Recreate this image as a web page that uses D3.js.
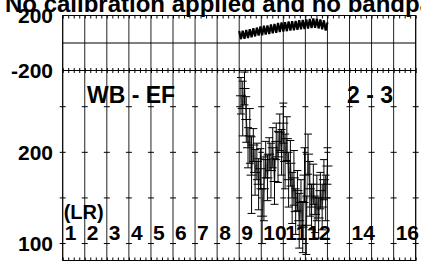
<!DOCTYPE html>
<html>
<head>
<meta charset="utf-8">
<script src="https://cdn.jsdelivr.net/npm/d3@7"></script>
<style>
  body { margin: 0; background: #fff; }
  svg text { font-family: "Liberation Sans", Arial, sans-serif; font-weight: bold; fill: #000; }
</style>
</head>
<body>
<svg id="chart" width="421" height="264"></svg>
<script>
// hour grid and labels
const hourGrid = [1,2,3,4,5,6,7,8,9,10,11,12,13,14,15,16,17];
const hourLabels = [1,2,3,4,5,6,7,8,9,10,11,12,14,16];

// top panel (phase) and bottom panel (amplitude) ticks
const phaseLabels = [200, -200];
const ampTicks = [100, 150, 200, 250];
const ampLabels = [100, 200];

// phase band
const phTime = [9.00,9.08,9.16,9.24,9.32,9.40,9.48,9.56,9.64,9.72,9.80,9.88,9.96,10.04,10.12,10.20,10.28,10.36,
  10.44,10.52,10.60,10.68,10.76,10.84,10.92,11.00,11.08,11.16,11.24,11.32,11.40,11.48,11.56,11.64,11.72,11.80,
  11.88,11.96,12.04,12.12,12.20,12.28,12.36,12.44,12.52,12.60,12.68,12.76,12.84,12.92,13.00];
const phVal = [88,28,90,30,95,36,100,42,108,48,112,55,120,56,125,62,128,66,
  135,70,138,75,145,80,150,84,152,86,156,90,158,92,160,96,165,100,
  168,102,172,106,175,108,178,110,176,106,172,100,165,90,150];

// amplitude points with error bars
const ptTime = [9.08,9.16,9.24,9.32,9.40,9.48,9.56,9.64,9.72,9.80,9.88,9.96,10.04,10.12,10.20,10.28,10.36,
  10.44,10.52,10.60,10.68,10.76,10.84,10.92,11.00,11.08,11.16,11.24,11.32,11.40,11.48,11.56,11.64,11.72,11.80,
  11.88,11.96,12.04,12.12,12.20,12.28,12.36,12.44,12.52,12.60,12.68,12.76,12.84,12.92,13.00];
const ptAmp = [262,248,270,236,205,218,175,208,178,190,165,182,130,160,192,172,198,180,205,168,212,195,222,200,
  232,190,215,170,188,150,172,135,158,125,145,118,175,120,198,160,140,165,132,150,128,158,140,170,150,185];
const ptErr = [20,30,18,25,22,30,42,18,25,20,28,22,30,35,20,25,18,30,22,25,20,28,20,25,
  22,30,24,30,25,28,30,25,22,30,25,28,30,32,22,30,25,22,20,25,22,20,25,22,25,20];

const svg = d3.select("#chart");
const left = 62.7, right = 415.7;
const topY = 15.5, midY = 70.5, botY = 260.5;

const x = d3.scaleLinear().domain([1, 17]).range([left, right]);
const yPh = d3.scaleLinear().domain([-200, 200]).range([midY, topY]);
const yAmp = d3.scaleLinear().domain([81.4, 289.7]).range([botY, midY]);

// title (runs off the right edge)
svg.append("text")
   .attr("x", 5).attr("y", 12)
   .style("font-size", "24px")
   .text("No calibration applied and no bandpass correction");

// vertical grid
svg.append("g").selectAll("line")
   .data(hourGrid)
   .join("line")
   .attr("x1", d => x(d)).attr("x2", d => x(d))
   .attr("y1", topY).attr("y2", botY)
   .attr("stroke", "#222").attr("stroke-width", 1);

// frames
svg.append("rect").attr("x", left).attr("y", topY)
   .attr("width", right - left).attr("height", botY - topY)
   .attr("fill", "none").attr("stroke", "#000");
svg.append("line").attr("x1", left).attr("x2", right)
   .attr("y1", midY).attr("y2", midY).attr("stroke", "#000");
svg.append("line").attr("x1", left).attr("x2", right)
   .attr("y1", yPh(0)).attr("y2", yPh(0)).attr("stroke", "#000");

// minor ticks along the edges
const minor = d3.range(1, 17.001, 0.25);
svg.append("g").attr("transform", `translate(0,${topY})`)
   .call(d3.axisBottom(x).tickValues(minor).tickSize(3).tickFormat(""))
   .call(g => g.select(".domain").remove());
svg.append("g").attr("transform", `translate(0,${midY})`)
   .call(d3.axisBottom(x).tickValues(minor).tickSize(2.5).tickFormat(""))
   .call(g => g.select(".domain").remove());
svg.append("g").attr("transform", `translate(0,${midY})`)
   .call(d3.axisTop(x).tickValues(minor).tickSize(2.5).tickFormat(""))
   .call(g => g.select(".domain").remove());
svg.append("g").attr("transform", `translate(0,${botY})`)
   .call(d3.axisTop(x).tickValues(minor).tickSize(3).tickFormat(""))
   .call(g => g.select(".domain").remove());

// small horizontal crosses on the amplitude panel
const crosses = [];
hourGrid.forEach(h => ampTicks.forEach(a => crosses.push([h, a])));
svg.append("g").selectAll("line")
   .data(crosses)
   .join("line")
   .attr("x1", d => x(d[0]) - 3).attr("x2", d => x(d[0]) + 3)
   .attr("y1", d => yAmp(d[1])).attr("y2", d => yAmp(d[1]))
   .attr("stroke", "#000");

// y labels
svg.append("g").selectAll("text")
   .data(phaseLabels)
   .join("text")
   .attr("x", 53).attr("y", d => yPh(d) + 7.5)
   .attr("text-anchor", "end")
   .style("font-size", "21px")
   .text(d => d);
svg.append("g").selectAll("text")
   .data(ampLabels)
   .join("text")
   .attr("x", 53).attr("y", d => yAmp(d) + 7.5)
   .attr("text-anchor", "end")
   .style("font-size", "21px")
   .text(d => d);

// hour labels inside the plot
svg.append("g").selectAll("text")
   .data(hourLabels)
   .join("text")
   .attr("x", d => x(d) + 2).attr("y", 240)
   .style("font-size", "21px")
   .text(d => d);
svg.append("text").attr("x", x(1) + 1).attr("y", 219)
   .style("font-size", "20px").text("(LR)");
svg.append("text").attr("x", 87).attr("y", 103)
   .style("font-size", "23px").text("WB - EF");
svg.append("text").attr("x", 347).attr("y", 103)
   .style("font-size", "23px").text("2 - 3");

// phase band
svg.append("path")
   .datum(phTime.map((t, i) => [t, phVal[i]]))
   .attr("fill", "none").attr("stroke", "#000").attr("stroke-width", 2.2)
   .attr("d", d3.line().x(d => x(d[0])).y(d => yPh(d[1])));

// amplitude series
const pts = ptTime.map((t, i) => ({ t, a: ptAmp[i], e: ptErr[i] }));
svg.append("path")
   .datum(pts)
   .attr("fill", "none").attr("stroke", "#777").attr("stroke-width", 1.5)
   .attr("d", d3.line().x(d => x(d.t)).y(d => yAmp(d.a)));

const pg = svg.append("g").attr("stroke", "#000").attr("stroke-width", 1);
pg.selectAll(".bar").data(pts).join("line").attr("class", "bar")
  .attr("x1", d => x(d.t)).attr("x2", d => x(d.t))
  .attr("y1", d => yAmp(d.a - d.e)).attr("y2", d => yAmp(d.a + d.e));
pg.selectAll(".mark").data(pts).join("line").attr("class", "mark")
  .attr("x1", d => x(d.t) - 5).attr("x2", d => x(d.t) + 5)
  .attr("y1", d => yAmp(d.a)).attr("y2", d => yAmp(d.a));
pg.selectAll(".capHi").data(pts).join("line").attr("class", "capHi")
  .attr("x1", d => x(d.t) - 4).attr("x2", d => x(d.t) + 4)
  .attr("y1", d => yAmp(d.a + d.e)).attr("y2", d => yAmp(d.a + d.e));
pg.selectAll(".capLo").data(pts).join("line").attr("class", "capLo")
  .attr("x1", d => x(d.t) - 4).attr("x2", d => x(d.t) + 4)
  .attr("y1", d => yAmp(d.a - d.e)).attr("y2", d => yAmp(d.a - d.e));
</script>
</body>
</html>
